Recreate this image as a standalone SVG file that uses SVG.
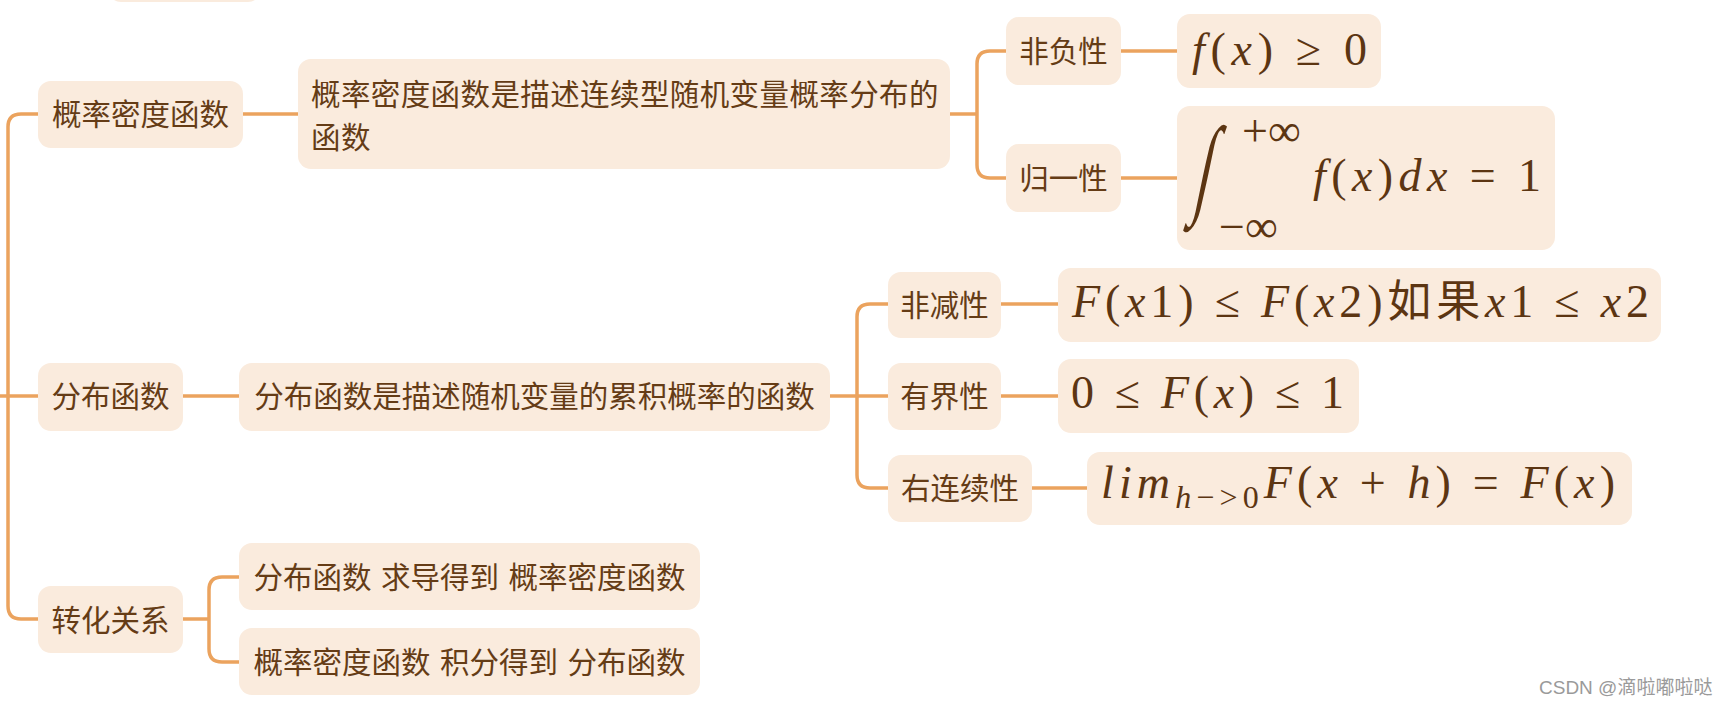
<svg xmlns="http://www.w3.org/2000/svg" width="1726" height="706" viewBox="0 0 1726 706">
<style>
.box{fill:#FAEBDD}
.t{font-family:"Noto Sans CJK SC","Noto Sans",sans-serif;font-size:29.5px;fill:#653c16;text-anchor:middle}
.tl{font-family:"Noto Sans CJK SC","Noto Sans",sans-serif;font-size:29.5px;fill:#653c16;letter-spacing:0.4px}
.m{font-family:"Liberation Serif","DejaVu Serif",serif;font-size:46px;fill:#5c3512}
.i{font-style:italic}
.cj{font-family:"Noto Sans CJK SC",sans-serif}
.c{fill:none;stroke:#EBA35E;stroke-width:3.5;stroke-linecap:butt}
.wm{font-family:"Liberation Sans","Noto Sans CJK SC",sans-serif;font-size:19px;fill:#9a9a9a}
</style>
<rect width="1726" height="706" fill="#ffffff"/>
<g id="connectors">
<path class="c" d="M 38 114 H 21 Q 8 114 8 127 V 606 Q 8 619 21 619 H 39"/>
<path class="c" d="M 0 396 H 38"/>
<path class="c" d="M 243 114 H 298"/>
<path class="c" d="M 950 114 H 977"/>
<path class="c" d="M 1006 51 H 990 Q 977 51 977 64 V 165 Q 977 178 990 178 H 1006"/>
<path class="c" d="M 1121 51 H 1177"/>
<path class="c" d="M 1121 178 H 1177"/>
<path class="c" d="M 183 396 H 239"/>
<path class="c" d="M 830 396 H 857"/>
<path class="c" d="M 888 304 H 870 Q 857 304 857 317 V 475 Q 857 488 870 488 H 888"/>
<path class="c" d="M 857 396 H 888"/>
<path class="c" d="M 1001 304 H 1058"/>
<path class="c" d="M 1001 396 H 1058"/>
<path class="c" d="M 1032 488 H 1087"/>
<path class="c" d="M 183 619 H 209"/>
<path class="c" d="M 239 577 H 222 Q 209 577 209 590 V 649 Q 209 662 222 662 H 239"/>
</g>
<g id="top-partial"><rect class="box" x="108" y="-40" width="153" height="42" rx="13"/></g>
<g id="n-pdf"><rect class="box" x="38" y="81" width="205" height="67" rx="13"/><text class="t" x="140.5" y="125">概率密度函数</text></g>
<g id="n-pdf-desc"><rect class="box" x="298" y="59" width="652" height="110" rx="13"/>
<text class="tl" x="311" y="104.5">概率密度函数是描述连续型随机变量概率分布的</text>
<text class="tl" x="311" y="147.5">函数</text></g>
<g id="n-nonneg"><rect class="box" x="1006" y="17" width="115" height="68" rx="13"/><text class="t" x="1063.5" y="62">非负性</text></g>
<g id="n-norm"><rect class="box" x="1006" y="144" width="115" height="68" rx="13"/><text class="t" x="1063.5" y="189">归一性</text></g>
<g id="f-nonneg"><rect class="box" x="1177" y="14" width="204" height="74" rx="13"/>
<text class="m" x="1192" y="65" textLength="175" lengthAdjust="spacing"><tspan class="i">f</tspan>(<tspan class="i">x</tspan>) ≥ 0</text></g>
<g id="f-norm"><rect class="box" x="1177" y="106" width="378" height="144" rx="13"/>
<text class="m" x="0" y="0" transform="translate(1192,203) skewX(-12) scale(1.25,2.38)" font-size="80">∫</text>
<text class="m" x="1242" y="146" font-size="32">+∞</text>
<text class="m" x="1219" y="242" font-size="32">−∞</text>
<text class="m" x="1313" y="191" textLength="228" lengthAdjust="spacing"><tspan class="i">f</tspan>(<tspan class="i">x</tspan>)<tspan class="i">dx</tspan> = 1</text></g>
<g id="n-cdf"><rect class="box" x="38" y="363" width="145" height="68" rx="13"/><text class="t" x="110.5" y="407">分布函数</text></g>
<g id="n-cdf-desc"><rect class="box" x="239" y="363" width="591" height="68" rx="13"/><text class="t" x="534.5" y="407">分布函数是描述随机变量的累积概率的函数</text></g>
<g id="n-nondec"><rect class="box" x="888" y="272" width="113" height="66" rx="13"/><text class="t" x="944.5" y="316">非减性</text></g>
<g id="n-bounded"><rect class="box" x="888" y="363" width="113" height="67" rx="13"/><text class="t" x="944.5" y="407">有界性</text></g>
<g id="n-rightcont"><rect class="box" x="888" y="455" width="144" height="67" rx="13"/><text class="t" x="960" y="499">右连续性</text></g>
<g id="f-nondec"><rect class="box" x="1058" y="268" width="603" height="74" rx="13"/>
<text class="m" x="1072" y="317" textLength="577" lengthAdjust="spacing"><tspan class="i">F</tspan>(<tspan class="i">x</tspan>1) ≤ <tspan class="i">F</tspan>(<tspan class="i">x</tspan>2)<tspan class="cj" font-size="44">如果</tspan><tspan class="i">x</tspan>1 ≤ <tspan class="i">x</tspan>2</text></g>
<g id="f-bounded"><rect class="box" x="1058" y="359" width="301" height="74" rx="13"/>
<text class="m" x="1071" y="408" textLength="273" lengthAdjust="spacing">0 ≤ <tspan class="i">F</tspan>(<tspan class="i">x</tspan>) ≤ 1</text></g>
<g id="f-rightcont"><rect class="box" x="1087" y="452" width="545" height="73" rx="13"/>
<text class="m" x="1101" y="498" textLength="514" lengthAdjust="spacing"><tspan class="i">lim</tspan><tspan class="i" font-size="32" dy="10">h</tspan><tspan font-size="32">−&gt;0</tspan><tspan class="i" dy="-10">F</tspan>(<tspan class="i">x</tspan> + <tspan class="i">h</tspan>) = <tspan class="i">F</tspan>(<tspan class="i">x</tspan>)</text></g>
<g id="n-relation"><rect class="box" x="38" y="586" width="145" height="67" rx="13"/><text class="t" x="110.5" y="631">转化关系</text></g>
<g id="n-rel1"><rect class="box" x="239" y="543" width="461" height="67" rx="13"/><text class="t" x="469.5" y="588" word-spacing="3">分布函数 求导得到 概率密度函数</text></g>
<g id="n-rel2"><rect class="box" x="239" y="628" width="461" height="67" rx="13"/><text class="t" x="469.5" y="673" word-spacing="3">概率密度函数 积分得到 分布函数</text></g>
<text class="wm" x="1539" y="694">CSDN @滴啦嘟啦哒</text>
</svg>
